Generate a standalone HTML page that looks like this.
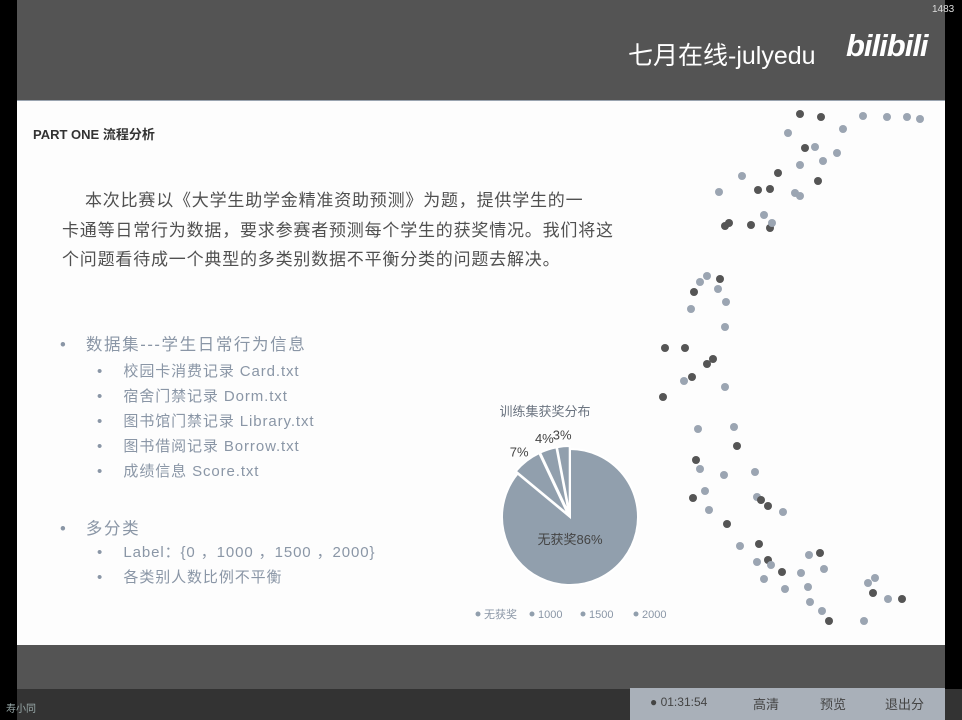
<!DOCTYPE html>
<html><head><meta charset="utf-8">
<style>
body{margin:0;width:962px;height:720px;overflow:hidden;background:#000;font-family:"Liberation Sans","Noto Sans CJK SC",sans-serif;position:relative}
.abs{position:absolute}
#top{left:17px;top:0;width:928px;height:100px;background:#545454}
#slide{left:17px;top:100px;width:928px;height:545px;background:#fdfdfd;border-top:1px solid #9aa4b0}
#bot{left:17px;top:645px;width:928px;height:44px;background:#545454}
#strip{left:17px;top:689px;width:945px;height:31px;background:#333}
.para{font-size:17px;color:#505050;white-space:nowrap;letter-spacing:0.8px}
.b1{font-size:16.5px;color:#8a96a6;white-space:nowrap;letter-spacing:1.6px}
.b2{font-size:15px;color:#8a96a6;white-space:nowrap;letter-spacing:0.9px}
</style></head><body>
<div class="abs" id="top"></div>
<div class="abs" style="left:628px;top:36px;color:#fff;font-size:25px">七月在线-julyedu</div>
<div class="abs" style="left:846px;top:28px;color:#fff;font-size:31px;font-weight:bold;font-style:italic;letter-spacing:-1px">bilibili</div>
<div class="abs" style="left:932px;top:4px;color:#ddd;font-size:10px">1483</div>
<div class="abs" id="slide"></div>
<div class="abs" style="left:33px;top:124px;font-size:13px;font-weight:bold;color:#333">PART ONE 流程分析</div>
<div class="abs para" style="left:85px;top:186px">本次比赛以《大学生助学金精准资助预测》为题，提供学生的一</div>
<div class="abs para" style="left:62px;top:216px">卡通等日常行为数据，要求参赛者预测每个学生的获奖情况。我们将这</div>
<div class="abs para" style="left:62px;top:245px">个问题看待成一个典型的多类别数据不平衡分类的问题去解决。</div>
<div class="abs b1" style="left:60px;top:331px">•&nbsp;&nbsp;&nbsp;数据集---学生日常行为信息</div>
<div class="abs b2" style="left:97px;top:360px">•&nbsp;&nbsp;&nbsp;&nbsp;校园卡消费记录 Card.txt</div>
<div class="abs b2" style="left:97px;top:385px">•&nbsp;&nbsp;&nbsp;&nbsp;宿舍门禁记录 Dorm.txt</div>
<div class="abs b2" style="left:97px;top:410px">•&nbsp;&nbsp;&nbsp;&nbsp;图书馆门禁记录 Library.txt</div>
<div class="abs b2" style="left:97px;top:435px">•&nbsp;&nbsp;&nbsp;&nbsp;图书借阅记录 Borrow.txt</div>
<div class="abs b2" style="left:97px;top:460px">•&nbsp;&nbsp;&nbsp;&nbsp;成绩信息 Score.txt</div>
<div class="abs b1" style="left:60px;top:515px">•&nbsp;&nbsp;&nbsp;多分类</div>
<div class="abs b2" style="left:97px;top:541px">•&nbsp;&nbsp;&nbsp;&nbsp;Label：{0 ，1000 ，1500 ，2000}</div>
<div class="abs b2" style="left:97px;top:566px">•&nbsp;&nbsp;&nbsp;&nbsp;各类别人数比例不平衡</div>
<svg class="abs" style="left:0;top:0" width="962" height="720" id="chart"></svg>
<div class="abs" id="bot"></div>
<div class="abs" id="strip"></div>
<div class="abs" style="left:6px;top:700px;color:#9aa;font-size:10px">寿小同</div>
<div class="abs" style="left:630px;top:688px;width:315px;height:32px;background:#a9b0b9"></div>
<div class="abs" style="left:650px;top:695px;font-size:12px;color:#444">● 01:31:54</div>
<div class="abs" style="left:753px;top:694px;font-size:13px;color:#444">高清</div>
<div class="abs" style="left:820px;top:694px;font-size:13px;color:#444">预览</div>
<div class="abs" style="left:885px;top:694px;font-size:13px;color:#444">退出分</div>
<script>
const categories=["无获奖","1000","1500","2000"];
const values=[86,7,4,3];
const labels=["无获奖86%","7%","4%","3%"];
const dotsX=[800,821,863,887,907,920,788,843,805,815,837,823,800,778,742,818,719,758,770,795,800,764,725,729,751,770,772,707,720,700,694,718,726,691,725,665,685,713,707,692,684,725,663,698,734,737,696,700,724,755,705,693,757,761,768,709,783,727,740,759,820,809,757,768,771,782,801,824,875,868,764,785,808,873,888,902,810,822,829,864];
const dotsY=[114,117,116,117,117,119,133,129,148,147,153,161,165,173,176,181,192,190,189,193,196,215,226,223,225,228,223,276,279,282,292,289,302,309,327,348,348,359,364,377,381,387,397,429,427,446,460,469,475,472,491,498,497,500,506,510,512,524,546,544,553,555,562,560,565,572,573,569,578,583,579,589,587,593,599,599,602,611,621,621];
const dotsDark=[1,1,0,0,0,0,0,0,1,0,0,0,0,1,0,1,0,1,1,0,0,0,1,1,1,1,0,0,1,0,1,0,0,0,0,1,1,1,1,1,0,0,1,0,0,1,1,0,0,0,0,1,0,1,1,0,0,1,0,1,1,0,0,1,0,1,0,0,0,0,0,0,0,1,0,1,0,0,1,0];
const svg=document.getElementById('chart');
const NS='http://www.w3.org/2000/svg';
function mk(t,a){const e=document.createElementNS(NS,t);for(const k in a)e.setAttribute(k,a[k]);svg.appendChild(e);return e;}
for(let i=0;i<dotsX.length;i++){
 const c=mk('circle',{cx:dotsX[i],cy:dotsY[i],r:4,fill:dotsDark[i]?'#555':'#9ba5b2'});
 
 
}
const cx=570,cy=517,R=68;
const total=values.reduce((a,b)=>a+b,0);
function ang(v){return v/total*2*Math.PI;}
function pt(a,r,ox,oy){return [ox+r*Math.sin(a),oy-r*Math.cos(a)];}
let a0=0;
for(let i=0;i<values.length;i++){
 const a1=a0+ang(values[i]);
 const mid=(a0+a1)/2;
 const off=i===0?0:3;
 const ox=cx+off*Math.sin(mid),oy=cy-off*Math.cos(mid);
 const p0=pt(a0,R,ox,oy),p1=pt(a1,R,ox,oy);
 const large=(a1-a0)>Math.PI?1:0;
 const p=mk('path',{d:`M${ox},${oy}L${p0[0]},${p0[1]}A${R},${R} 0 ${large} 1 ${p1[0]},${p1[1]}Z`,fill:'#919fad',stroke:'#fff','stroke-width':2});
 
 
 let lp;
 if(i===0){lp=[cx,cy+27];}
 else{lp=pt(mid,R+15,cx,cy);lp[1]+=5;}
 const t=mk('text',{x:lp[0],y:lp[1],'font-size':13,fill:'#444','text-anchor':'middle'});
 t.textContent=labels[i];
 
 
 a0=a1;
}
const title=mk('text',{x:545,y:416,'font-size':13,fill:'#6b7480','text-anchor':'middle'});
title.textContent='训练集获奖分布';


const legX=[478,532,583,636];
for(let i=0;i<categories.length;i++){
 const d=mk('circle',{cx:legX[i],cy:614,r:2.5,fill:'#919fad'});
 
 
 const t=mk('text',{x:legX[i]+6,y:618,'font-size':11,fill:'#8a96a6'});
 t.textContent=categories[i];
 
 
}
</script>
</body></html>
